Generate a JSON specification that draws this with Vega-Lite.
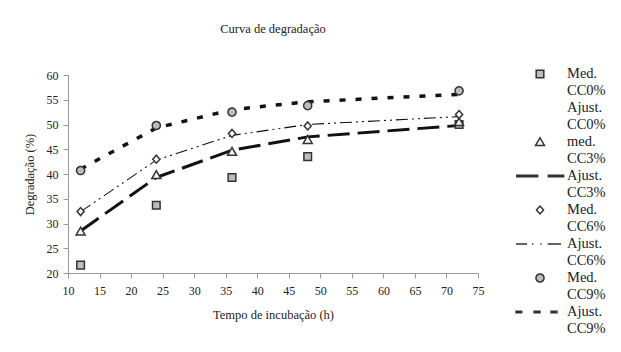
{
  "$schema": "https://vega.github.io/schema/vega-lite/v6.json",
  "width": 410,
  "height": 198,
  "autosize": {"type": "none"},
  "padding": {"left": 68, "top": 75, "right": 143, "bottom": 79},
  "background": "white",
  "config": {
    "view": {"stroke": null},
    "font": "Liberation Serif",
    "axis": {"labelFont": "Liberation Serif", "titleFont": "Liberation Serif", "labelFontSize": 12, "titleFontSize": 12.5, "titleFontWeight": "normal", "labelColor": "#222", "titleColor": "#222", "domainColor": "#999", "tickColor": "#999", "grid": false, "tickSize": 5, "labelOverlap": false}
  },
  "title": {"text": "Curva de degradação", "font": "Liberation Serif", "fontSize": 12.5, "fontWeight": "normal", "color": "#222", "offset": 29, "anchor": "middle", "frame": "group"},
  "datasets": {
    "medido": [
      {"series": "Med. CC0%", "tempo": 12, "valor": 21.6},
      {"series": "Med. CC0%", "tempo": 24, "valor": 33.7},
      {"series": "Med. CC0%", "tempo": 36, "valor": 39.3},
      {"series": "Med. CC0%", "tempo": 48, "valor": 43.5},
      {"series": "Med. CC0%", "tempo": 72, "valor": 50.0},
      {"series": "med. CC3%", "tempo": 12, "valor": 28.4},
      {"series": "med. CC3%", "tempo": 24, "valor": 39.8},
      {"series": "med. CC3%", "tempo": 36, "valor": 44.5},
      {"series": "med. CC3%", "tempo": 48, "valor": 46.9},
      {"series": "med. CC3%", "tempo": 72, "valor": 50.5},
      {"series": "Med. CC6%", "tempo": 12, "valor": 32.4},
      {"series": "Med. CC6%", "tempo": 24, "valor": 43.0},
      {"series": "Med. CC6%", "tempo": 36, "valor": 48.2},
      {"series": "Med. CC6%", "tempo": 48, "valor": 49.7},
      {"series": "Med. CC6%", "tempo": 72, "valor": 52.0},
      {"series": "Med. CC9%", "tempo": 12, "valor": 40.7},
      {"series": "Med. CC9%", "tempo": 24, "valor": 49.8},
      {"series": "Med. CC9%", "tempo": 36, "valor": 52.5},
      {"series": "Med. CC9%", "tempo": 48, "valor": 53.8},
      {"series": "Med. CC9%", "tempo": 72, "valor": 56.8}
    ],
    "ajustado": [
      {"series": "Ajust. CC3%", "tempo": 12, "valor": 28.5},
      {"series": "Ajust. CC3%", "tempo": 24, "valor": 39.3},
      {"series": "Ajust. CC3%", "tempo": 36, "valor": 44.8},
      {"series": "Ajust. CC3%", "tempo": 48, "valor": 47.5},
      {"series": "Ajust. CC3%", "tempo": 72, "valor": 49.8},
      {"series": "Ajust. CC6%", "tempo": 12, "valor": 32.4},
      {"series": "Ajust. CC6%", "tempo": 24, "valor": 42.8},
      {"series": "Ajust. CC6%", "tempo": 36, "valor": 47.8},
      {"series": "Ajust. CC6%", "tempo": 48, "valor": 50.0},
      {"series": "Ajust. CC6%", "tempo": 72, "valor": 51.6},
      {"series": "Ajust. CC9%", "tempo": 12, "valor": 41.0},
      {"series": "Ajust. CC9%", "tempo": 24, "valor": 49.3},
      {"series": "Ajust. CC9%", "tempo": 36, "valor": 53.0},
      {"series": "Ajust. CC9%", "tempo": 48, "valor": 54.6},
      {"series": "Ajust. CC9%", "tempo": 72, "valor": 56.1}
    ]
  },
  "encoding": {
    "x": {"field": "tempo", "type": "quantitative", "scale": {"domain": [10, 75], "nice": false}, "axis": {"values": [10,15,20,25,30,35,40,45,50,55,60,65,70,75], "title": "Tempo de incubação (h)", "labelFont": "Liberation Serif", "titleFont": "Liberation Serif", "labelPadding": 7, "titlePadding": 12, "labelFlush": false, "labelOverlap": false}},
    "y": {"field": "valor", "type": "quantitative", "scale": {"domain": [20, 60], "nice": false, "zero": false}, "axis": {"values": [20,25,30,35,40,45,50,55,60], "title": "Degradação (%)", "labelFont": "Liberation Serif", "titleFont": "Liberation Serif", "labelPadding": 5, "titlePadding": 10, "labelOverlap": false}}
  },
  "layer": [
    {
      "data": {"name": "ajustado"},
      "mark": {"type": "line", "color": "#111", "strokeCap": "butt"},
      "encoding": {
        "detail": {"field": "series"},
        "strokeDash": {"field": "series", "type": "nominal", "scale": {"type": "ordinal", "domain": ["Ajust. CC3%", "Ajust. CC6%", "Ajust. CC9%"], "range": [[22, 8], [12, 4, 2, 4, 2, 4], [6, 10]]}, "legend": null},
        "strokeWidth": {"field": "series", "type": "nominal", "scale": {"type": "ordinal", "domain": ["Ajust. CC3%", "Ajust. CC6%", "Ajust. CC9%"], "range": [3, 1.1, 3.5]}, "legend": null}
      }
    },
    {
      "data": {"name": "medido"},
      "mark": {"type": "point", "filled": true, "size": 289, "stroke": "#333", "strokeWidth": 1.5, "opacity": 1},
      "encoding": {
        "shape": {
          "field": "series", "type": "nominal",
          "scale": {
            "domain": ["Med. CC0%", "Ajust. CC0%", "med. CC3%", "Ajust. CC3%", "Med. CC6%", "Ajust. CC6%", "Med. CC9%", "Ajust. CC9%"],
            "range": [
              "M-0.448,-0.448H0.448V0.448H-0.448Z",
              "M0,0",
              "M0,-0.5L0.53,0.42H-0.53Z",
              "M-2.74,-0.084H-0.28V0.084H-2.74ZM0.98,-0.084H2.78V0.084H0.98Z",
              "M0,-0.47L0.42,0L0,0.47L-0.42,0Z",
              "M-2.82,0H-1.52M-0.94,0H-0.78M0.04,0H0.2M0.9,0H2.48",
              "M0.48,0A0.48,0.48,0,1,1,-0.48,0A0.48,0.48,0,1,1,0.48,0Z",
              "M-2.82,-0.084H-2.16V0.084H-2.82ZM-0.7,-0.084H0V0.084H-0.7ZM1.3,-0.084H2.0V0.084H1.3Z"
            ]
          },
          "legend": {
            "title": null, "orient": "none", "legendX": 462.5, "legendY": -10.5, "padding": 0,
            "symbolSize": 289,
            "labelFont": "Liberation Serif", "labelFontSize": 14.5, "labelColor": "#222", "labelOffset": 17.5, "labelBaseline": "middle", "labelLimit": 200,
            "labelExpr": "split(datum.label, ' ')", "rowPadding": 1,
            "encode": {
              "symbols": {"update": {"stroke": {"value": "#333"}, "strokeWidth": {"value": 1.5}}},
              "labels": {"update": {"lineHeight": {"value": 17}, "font": {"value": "Liberation Serif"}}}
            }
          }
        },
        "fill": {
          "field": "series", "type": "nominal",
          "scale": {
            "domain": ["Med. CC0%", "Ajust. CC0%", "med. CC3%", "Ajust. CC3%", "Med. CC6%", "Ajust. CC6%", "Med. CC9%", "Ajust. CC9%"],
            "range": ["#bdbdbd", "transparent", "#f2f2f2", "#111", "#ffffff", "#111", "#bdbdbd", "#111"]
          },
          "legend": {
            "title": null, "orient": "none", "legendX": 462.5, "legendY": -10.5, "padding": 0,
            "symbolSize": 289,
            "labelFont": "Liberation Serif", "labelFontSize": 14.5, "labelColor": "#222", "labelOffset": 17.5, "labelBaseline": "middle", "labelLimit": 200,
            "labelExpr": "split(datum.label, ' ')", "rowPadding": 1,
            "encode": {
              "symbols": {"update": {"stroke": {"value": "#333"}, "strokeWidth": {"value": 1.5}}},
              "labels": {"update": {"lineHeight": {"value": 17}, "font": {"value": "Liberation Serif"}}}
            }
          }
        }
      }
    }
  ]
}
